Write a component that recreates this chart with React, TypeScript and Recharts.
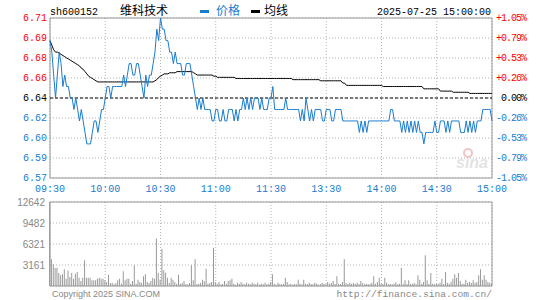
import React from 'react';
import {
  ComposedChart,
  Line,
  XAxis,
  YAxis,
  CartesianGrid,
  ReferenceLine,
  ReferenceArea,
  BarChart,
  Bar,
} from 'recharts';

// ---------- data ----------
const stockCode = 'sh600152';
const stockName = '维科技术';
const dateTime = '2025-07-25 15:00:00';
const prevClose = 6.64;
const rangePct = 1.05;

const priceLabels = ['6.57', '6.59', '6.60', '6.62', '6.64', '6.66', '6.68', '6.69', '6.71'];
const pctLabels = ['-1.05%', '-0.79%', '-0.53%', '-0.26%', '0.00%', '+0.26%', '+0.53%', '+0.79%', '+1.05%'];
const timeLabels = ['09:30', '10:00', '10:30', '11:00', '11:30', '13:30', '14:00', '14:30', '15:00'];
const timeTickIndex = [0, 30, 60, 90, 120, 150, 180, 210, 240];
const volumeTicks = [0, 3161, 6321, 9482, 12642];

const price = [
  6.69, 6.68, 6.66, 6.64, 6.66, 6.68, 6.67, 6.65, 6.66, 6.65,
  6.65, 6.64, 6.64, 6.63, 6.64, 6.63, 6.62, 6.63, 6.62, 6.61,
  6.60, 6.60, 6.60, 6.61, 6.62, 6.62, 6.61, 6.62, 6.63, 6.63,
  6.64, 6.65, 6.65, 6.64, 6.65, 6.65, 6.65, 6.65, 6.65, 6.65,
  6.66, 6.65, 6.66, 6.67, 6.67, 6.66, 6.66, 6.67, 6.67, 6.66,
  6.65, 6.64, 6.66, 6.65, 6.66, 6.66, 6.67, 6.68, 6.70, 6.69,
  6.71, 6.70, 6.70, 6.69, 6.69, 6.68, 6.68, 6.67, 6.68, 6.67,
  6.67, 6.67, 6.66, 6.66, 6.67, 6.67, 6.67, 6.66, 6.65, 6.64,
  6.63, 6.64, 6.63, 6.64, 6.63, 6.63, 6.63, 6.63, 6.62, 6.62,
  6.63, 6.63, 6.62, 6.62, 6.63, 6.62, 6.62, 6.63, 6.63, 6.63,
  6.62, 6.63, 6.62, 6.63, 6.63, 6.64, 6.63, 6.64, 6.63, 6.64,
  6.63, 6.64, 6.64, 6.64, 6.63, 6.64, 6.63, 6.63, 6.63, 6.64,
  6.64, 6.65, 6.63, 6.63, 6.63, 6.63, 6.63, 6.63, 6.64, 6.63,
  6.63, 6.63, 6.63, 6.63, 6.63, 6.63, 6.62, 6.63, 6.62, 6.64,
  6.63, 6.62, 6.63, 6.62, 6.63, 6.63, 6.63, 6.63, 6.62, 6.62,
  6.63, 6.63, 6.63, 6.62, 6.62, 6.63, 6.63, 6.63, 6.63, 6.62,
  6.62, 6.62, 6.62, 6.62, 6.62, 6.62, 6.62, 6.62, 6.61, 6.62,
  6.61, 6.62, 6.61, 6.62, 6.62, 6.62, 6.62, 6.62, 6.62, 6.62,
  6.62, 6.62, 6.62, 6.62, 6.62, 6.63, 6.63, 6.62, 6.62, 6.62,
  6.62, 6.61, 6.62, 6.61, 6.62, 6.61, 6.62, 6.61, 6.62, 6.61,
  6.62, 6.61, 6.61, 6.60, 6.61, 6.61, 6.61, 6.61, 6.61, 6.62,
  6.61, 6.61, 6.62, 6.62, 6.62, 6.61, 6.62, 6.61, 6.62, 6.62,
  6.62, 6.62, 6.62, 6.61, 6.61, 6.61, 6.62, 6.61, 6.62, 6.61,
  6.62, 6.61, 6.62, 6.62, 6.62, 6.63, 6.63, 6.63, 6.63, 6.63,
  6.62,
];

const avgLine = [
  6.690, 6.686, 6.682, 6.680, 6.680, 6.679, 6.678, 6.677, 6.676, 6.675,
  6.674, 6.673, 6.672, 6.671, 6.670, 6.669, 6.668, 6.666, 6.665, 6.663,
  6.661, 6.659, 6.658, 6.657, 6.656, 6.655, 6.654, 6.654, 6.654, 6.654,
  6.654, 6.654, 6.654, 6.654, 6.654, 6.654, 6.654, 6.654, 6.654, 6.654,
  6.654, 6.654, 6.654, 6.654, 6.654, 6.654, 6.654, 6.654, 6.654, 6.654,
  6.654, 6.654, 6.654, 6.654, 6.654, 6.654, 6.654, 6.655, 6.656, 6.658,
  6.659, 6.660, 6.661, 6.661, 6.661, 6.662, 6.662, 6.662, 6.662, 6.663,
  6.663, 6.663, 6.663, 6.663, 6.663, 6.663, 6.663, 6.663, 6.662, 6.661,
  6.660, 6.660, 6.660, 6.660, 6.660, 6.660, 6.660, 6.660, 6.660, 6.659,
  6.659, 6.658, 6.658, 6.658, 6.658, 6.658, 6.658, 6.658, 6.658, 6.658,
  6.658, 6.657, 6.657, 6.657, 6.657, 6.657, 6.657, 6.657, 6.657, 6.657,
  6.657, 6.657, 6.657, 6.657, 6.657, 6.657, 6.657, 6.657, 6.657, 6.657,
  6.657, 6.657, 6.657, 6.657, 6.657, 6.657, 6.657, 6.657, 6.657, 6.657,
  6.657, 6.657, 6.656, 6.656, 6.656, 6.656, 6.656, 6.656, 6.656, 6.656,
  6.656, 6.656, 6.656, 6.656, 6.656, 6.656, 6.656, 6.655, 6.655, 6.655,
  6.655, 6.655, 6.655, 6.655, 6.655, 6.655, 6.655, 6.655, 6.655, 6.653,
  6.653, 6.651, 6.651, 6.651, 6.651, 6.651, 6.651, 6.651, 6.651, 6.651,
  6.651, 6.651, 6.651, 6.651, 6.651, 6.651, 6.651, 6.651, 6.651, 6.651,
  6.651, 6.650, 6.650, 6.650, 6.650, 6.650, 6.650, 6.650, 6.650, 6.650,
  6.650, 6.650, 6.650, 6.650, 6.650, 6.650, 6.650, 6.650, 6.650, 6.650,
  6.650, 6.650, 6.650, 6.648, 6.648, 6.648, 6.648, 6.648, 6.648, 6.648,
  6.648, 6.648, 6.646, 6.646, 6.646, 6.646, 6.646, 6.646, 6.646, 6.645,
  6.645, 6.645, 6.645, 6.645, 6.645, 6.645, 6.645, 6.645, 6.644, 6.644,
  6.644, 6.644, 6.644, 6.644, 6.644, 6.644, 6.644, 6.644, 6.644, 6.644,
  6.644,
];

const volume = [
  12642, 4016, 3263, 2710, 2760, 1960, 1600, 1760, 2510, 1100,
  2350, 1350, 1960, 1100, 1860, 2100, 1250, 750, 1250, 3860,
  1250, 1250, 1250, 850, 850, 850, 1100, 1250, 1100, 1100,
  850, 600, 1700, 450, 500, 250, 450, 850, 1100, 350,
  2210, 850, 1100, 1100, 350, 750, 3110, 350, 950, 600,
  450, 1460, 1760, 600, 450, 750, 1250, 1100, 7130, 2010,
  950, 5620, 2360, 2010, 1250, 450, 1250, 950, 600, 350,
  1700, 350, 450, 750, 250, 250, 450, 3110, 850, 4020,
  250, 350, 450, 950, 700, 2610, 350, 450, 600, 5770,
  600, 350, 600, 250, 350, 750, 350, 750, 850, 1100,
  350, 200, 500, 350, 600, 350, 250, 500, 350, 250,
  500, 350, 250, 500, 200, 350, 250, 500, 250, 350,
  600, 1760, 350, 200, 500, 300, 250, 350, 1250, 600,
  250, 350, 200, 300, 250, 950, 350, 250, 950, 350,
  250, 500, 300, 250, 500, 350, 200, 300, 500, 350,
  250, 600, 350, 450, 750, 300, 1460, 350, 300, 600,
  4020, 450, 300, 500, 350, 450, 350, 500, 300, 750,
  450, 250, 350, 250, 350, 500, 1460, 350, 600, 1250,
  350, 300, 1250, 500, 250, 300, 250, 350, 550, 250,
  350, 2760, 350, 850, 300, 850, 300, 350, 450, 250,
  1610, 950, 350, 600, 4620, 850, 350, 1960, 350, 250,
  350, 300, 500, 1100, 300, 2110, 500, 350, 600, 1100,
  1760, 1250, 1960, 750, 350, 350, 950, 500, 600, 450,
  850, 500, 600, 1610, 2510, 950, 1610, 950, 600, 500,
  350,
];

// ---------- styles ----------
const BLUE = '#1a7ccf';
const RED = '#ff0000';
const GRID = '#b4b4b4';
const FRAME = '#999999';
const MONO = '"Liberation Mono", "DejaVu Sans Mono", monospace';
const SANS = '"Liberation Sans", Arial, sans-serif';
const CJK = '"Noto Sans CJK SC", sans-serif';

const lo = prevClose * (1 - rangePct / 100);
const hi = prevClose * (1 + rangePct / 100);
const yTicks = priceLabels.map((_, k) => lo + ((hi - lo) * k) / (priceLabels.length - 1));

const data = price.map((p, i) => ({ i, price: p, avg: avgLine[i], vol: volume[i] }));

const colorFor = (k: number) => (k < 4 ? BLUE : k === 4 ? '#000' : RED);
const tickIndex = (v: number) => Math.round(((v - lo) / (hi - lo)) * (priceLabels.length - 1));

const LeftTick = (props: any) => {
  const k = tickIndex(props.payload.value);
  return (
    <text x={47} y={props.y + 3} textAnchor="end" fill={colorFor(k)} fontSize={10} fontFamily={MONO}>
      {priceLabels[k]}
    </text>
  );
};

const RightTick = (props: any) => {
  const k = tickIndex(props.payload.value);
  const label = pctLabels[k];
  return (
    <text x={526 - 5 * label.length} y={props.y + 3} textAnchor="start" fill={colorFor(k)} fontSize={10} letterSpacing={-1} fontFamily={MONO}>
      {label}
    </text>
  );
};

const TimeTick = (props: any) => {
  const idx = timeTickIndex.indexOf(props.payload.value);
  return (
    <text x={props.x} y={192} textAnchor="middle" fill={BLUE} fontSize={10} fontFamily={MONO}>
      {timeLabels[idx]}
    </text>
  );
};

const VolTick = (props: any) => {
  const v = props.payload.value;
  if (v === 0) return null;
  return (
    <text x={45} y={props.y + 4} textAnchor="end" fill="#888" fontSize={10} fontFamily={SANS}>
      {String(v)}
    </text>
  );
};

export default function App() {
  return (
    <div style={{ position: 'absolute', left: 0, top: 0, width: 545, height: 300, background: '#fff', overflow: 'hidden' }}>
      <div style={{ position: 'absolute', left: 0, top: 0 }}>
        <ComposedChart width={545} height={200} data={data} margin={{ top: 18, right: 0, bottom: 0, left: 0 }}>
          <CartesianGrid stroke={GRID} strokeDasharray="1 2" />
          <XAxis
            dataKey="i"
            type="number"
            domain={[0, 240]}
            ticks={timeTickIndex}
            interval={0}
            axisLine={false}
            tickLine={false}
            height={22}
            tick={<TimeTick />}
          />
          <YAxis
            type="number"
            domain={[lo, hi]}
            ticks={yTicks}
            interval={0}
            width={50}
            axisLine={false}
            tickLine={false}
            tick={<LeftTick />}
            allowDataOverflow
          />
          <YAxis
            yAxisId="r"
            orientation="right"
            type="number"
            domain={[lo, hi]}
            ticks={yTicks}
            interval={0}
            width={53}
            axisLine={false}
            tickLine={false}
            tick={<RightTick />}
            allowDataOverflow
          />
          <ReferenceLine y={prevClose} stroke="#000" strokeDasharray="3 2" strokeWidth={1} />
          <Line type="linear" dataKey="avg" stroke="#000" strokeWidth={1} dot={false} isAnimationActive={false} />
          <Line type="linear" dataKey="price" stroke={BLUE} strokeWidth={1} dot={false} isAnimationActive={false} />
          <ReferenceArea x1={0} x2={240} y1={lo} y2={hi} fill="none" stroke={FRAME} strokeWidth={1} ifOverflow="visible" />
        </ComposedChart>
      </div>
      <div style={{ position: 'absolute', left: 0, top: 190 }}>
        <BarChart width={545} height={110} data={data} margin={{ top: 12, right: 53, bottom: 14, left: 0 }}>
          <CartesianGrid stroke={GRID} strokeDasharray="1 2" />
          <XAxis dataKey="i" type="number" domain={[0, 240]} ticks={timeTickIndex} interval={0} hide />
          <YAxis
            type="number"
            domain={[0, 12642]}
            ticks={volumeTicks}
            interval={0}
            width={50}
            axisLine={false}
            tickLine={false}
            tick={<VolTick />}
          />
          <Bar dataKey="vol" fill="#999" barSize={1} isAnimationActive={false} />
          <ReferenceArea x1={0} x2={240} y1={0} y2={12642} fill="none" stroke={FRAME} strokeWidth={1} ifOverflow="visible" />
        </BarChart>
      </div>
      <svg width={545} height={300} style={{ position: 'absolute', left: 0, top: 0, pointerEvents: 'none' }}>
        <text x={50} y={15} fontSize={10} fontFamily={MONO} fill="#000">{stockCode}</text>
        <text x={120} y={15} fontSize={12} fontFamily={CJK} fill="#000">{stockName}</text>
        <rect x={200} y={10} width={9} height={3} fill={BLUE} />
        <text x={216} y={15} fontSize={12} fontFamily={CJK} fill={BLUE}>价格</text>
        <rect x={251} y={10} width={9} height={3} fill="#000" />
        <text x={264} y={15} fontSize={12} fontFamily={CJK} fill="#000">均线</text>
        <text x={491} y={15} textAnchor="end" fontSize={10} fontFamily={MONO} fill="#000">{dateTime}</text>
        <text x={472} y={168} textAnchor="middle" fontSize={16} fontStyle="italic" fontWeight="bold" fontFamily={SANS} fill="#e4e4e4">sina</text>
        <circle cx={468} cy={153} r={4} fill="none" stroke="#f3c4c4" strokeWidth={2} />
        <text x={52} y={297} fontSize={9} fontFamily={SANS} fill="#888">Copyright 2025 SINA.COM</text>
        <text x={492} y={297} textAnchor="end" fontSize={9.6} fontFamily={MONO} fill="#888">http://finance.sina.com.cn/</text>
      </svg>
    </div>
  );
}
